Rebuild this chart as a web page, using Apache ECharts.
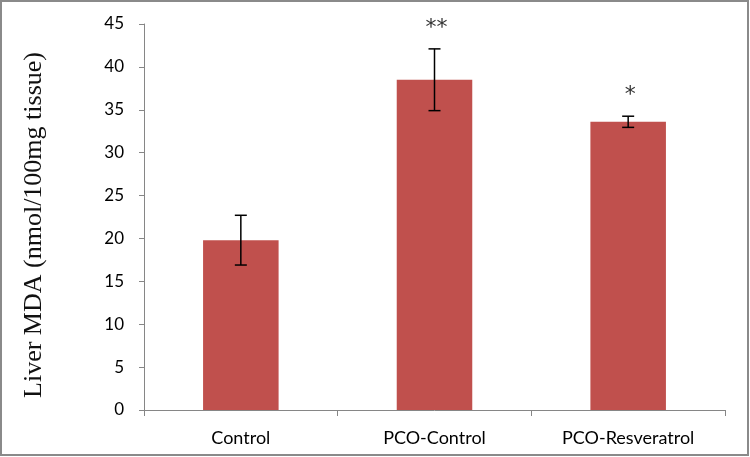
<!DOCTYPE html>
<html><head><meta charset="utf-8">
<script src="https://cdn.jsdelivr.net/npm/echarts@6/dist/echarts.min.js"></script>
<style>html,body{margin:0;padding:0;background:#fff}#c{width:750px;height:457px}</style>
</head><body><div id="c"></div>
<script>
var categories = ['Control', 'PCO-Control', 'PCO-Resveratrol'];
var means = [19.8, 38.5, 33.6];
var errors = [2.9, 3.6, 0.65];
var significance = ['', '**', '*'];
var yTicks = [0, 5, 10, 15, 20, 25, 30, 35, 40, 45];
var yTitle = 'Liver MDA (nmol/100mg tissue)';

var chart = echarts.init(document.getElementById('c'));
var errData = categories.map(function (c, i) {
  return [i, means[i] - errors[i], means[i] + errors[i]];
});
chart.setOption({
  animation: false,
  graphic: [{
    type: 'rect', shape: {x: 1, y: 1, width: 747, height: 454},
    style: {fill: 'none', stroke: '#8a8a8a', lineWidth: 2}, silent: true, z: -1
  }, {
    type: 'text', x: 34, y: 225, rotation: Math.PI / 2,
    style: {text: yTitle, fontFamily: 'Liberation Serif', fontSize: 26, fill: '#111',
            align: 'center', verticalAlign: 'middle'}
  }],
  grid: {left: 144, right: 25, top: 24, bottom: 47},
  xAxis: {
    type: 'category', data: categories,
    axisLine: {lineStyle: {color: '#868686', width: 1}},
    axisTick: {show: true, length: 6, alignWithLabel: false, lineStyle: {color: '#868686'}},
    axisLabel: {color: '#000', fontFamily: 'Lato', fontSize: 18, margin: 19}
  },
  yAxis: {
    type: 'value', min: yTicks[0], max: yTicks[yTicks.length - 1], interval: 5,
    axisLine: {show: true, lineStyle: {color: '#868686'}},
    axisTick: {show: true, length: 5, lineStyle: {color: '#868686'}},
    splitLine: {show: false},
    axisLabel: {color: '#000', fontFamily: 'Lato', fontSize: 17, margin: 20}
  },
  series: [{
    type: 'bar', data: means, barWidth: '39%',
    itemStyle: {color: '#C0504D'}
  }, {
    type: 'custom', data: errData, z: 10,
    renderItem: function (params, api) {
      var x = api.value(0);
      var lo = api.coord([x, api.value(1)]);
      var hi = api.coord([x, api.value(2)]);
      var cap = 6;
      var st = {stroke: '#000', lineWidth: 1.5};
      var children = [
        {type: 'line', shape: {x1: hi[0], y1: hi[1], x2: lo[0], y2: lo[1]}, style: st},
        {type: 'line', shape: {x1: hi[0] - cap, y1: hi[1], x2: hi[0] + cap, y2: hi[1]}, style: st},
        {type: 'line', shape: {x1: lo[0] - cap, y1: lo[1], x2: lo[0] + cap, y2: lo[1]}, style: st}
      ];
      var sig = significance[params.dataIndex];
      if (sig) {
        children.push({type: 'text', style: {
          text: sig, x: hi[0] + 2, y: hi[1] - 21, align: 'center', verticalAlign: 'middle',
          fontSize: 22, fontFamily: 'DejaVu Sans', fill: '#333'
        }});
      }
      return {type: 'group', children: children};
    }
  }]
});
</script></body></html>
